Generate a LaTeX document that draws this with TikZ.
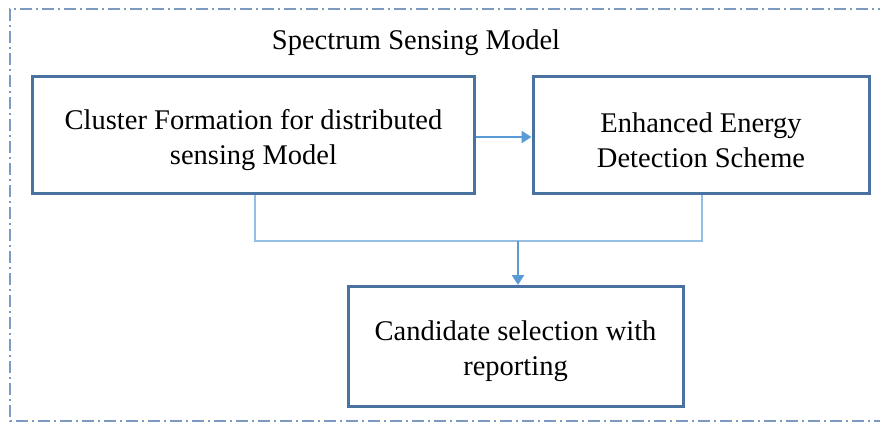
\documentclass[tikz,border=0pt]{standalone}
\usepackage{fontspec}
\setmainfont{Liberation Serif}
\usetikzlibrary{arrows.meta}
\definecolor{boxblue}{RGB}{74,114,160}
\definecolor{lineblue}{RGB}{150,190,228}
\definecolor{arrblue}{RGB}{91,155,213}
\definecolor{framecol}{RGB}{125,155,190}
\begin{document}
\begin{tikzpicture}[x=1pt,y=-1pt,
  blk/.style={draw=boxblue,line width=3pt,fill=white,inner sep=0pt},
  txt/.style={align=center,inner sep=0pt,font=\fontsize{28.5}{35}\selectfont},
  conn/.style={draw=lineblue,line width=2pt},
  arr/.style={draw=arrblue,line width=2.4pt,-{Triangle[length=10pt,width=12pt]}}]
\useasboundingbox (0,0) rectangle (880,423);
\begin{scope}
\clip (0,0) rectangle (880,423);
\draw[framecol,line width=1.5pt,dash pattern=on 12pt off 4pt on 2pt off 4pt] (890,9) -- (10,9) -- (10,421) -- (890,421);
\end{scope}
\node[font=\fontsize{28.5}{30}\selectfont] (title) at (416,43) {Spectrum Sensing Model};
\node[blk,minimum width=442pt,minimum height=117pt] (b1) at (253.5,135) {};
\node[blk,minimum width=336pt,minimum height=117pt] (b2) at (701,135) {};
\node[blk,minimum width=335pt,minimum height=120pt] (b3) at (515.5,346.5) {};
\node[txt] (t1) at ([yshift=-5pt]b1.center) {Cluster Formation for distributed\\sensing Model};
\node[txt] (t2) at ([yshift=-5pt]b2.center) {Enhanced Energy\\Detection Scheme};
\node[txt] (t3) at ([yshift=-5pt]b3.center) {Candidate selection with\\reporting};
\coordinate (j) at (518,241);
\draw[conn] (b1.south -| 255,0) -- (255,241) -- (702,241) -- (b2.south -| 702,0);
\draw[arr] (j) -- (b3.north -| j);
\draw[arr] (b1.east |- 0,137) -- (b2.west |- 0,137);
\end{tikzpicture}
\end{document}
